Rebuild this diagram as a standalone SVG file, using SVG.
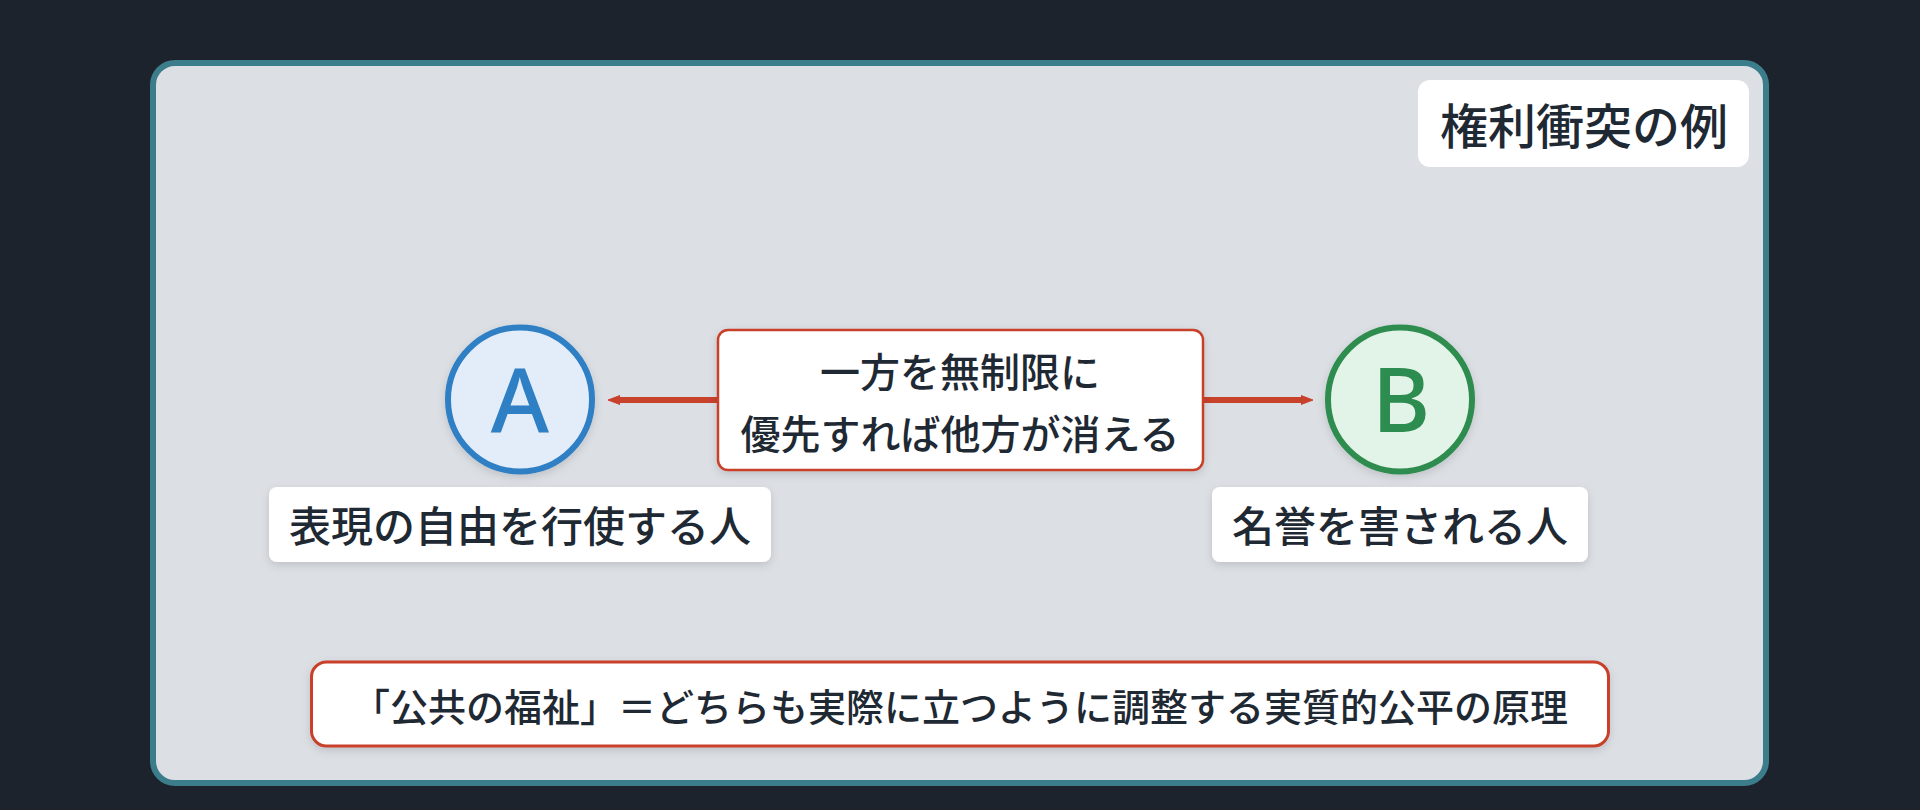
<svg xmlns="http://www.w3.org/2000/svg" width="1920" height="810" viewBox="0 0 1920 810">
  <defs>
    <style>
      .jp { font-family: "Noto Sans CJK JP", "Noto Sans", sans-serif; font-weight: 500; fill: #1f2933; }
      .lbl { fill: #ffffff; filter: url(#sh); }
      .redbox { fill: #ffffff; stroke: #c8412b; }
      .conn { stroke: #c8412b; stroke-width: 6; fill: none; }
      .letter { font-family: "Noto Sans", "DejaVu Sans", sans-serif; font-weight: 500; font-size: 89px; }
    </style>
    <filter id="sh" x="-10%" y="-20%" width="120%" height="150%">
      <feDropShadow dx="0" dy="3" stdDeviation="4" flood-color="#000000" flood-opacity="0.14"/>
    </filter>
    <marker id="arr" viewBox="0 0 12 10" refX="4" refY="5" markerWidth="12" markerHeight="10" markerUnits="userSpaceOnUse" orient="auto">
      <path d="M0,0.5 L12,5 L0,9.5 Z" fill="#c8412b" stroke="#c8412b" stroke-width="1" stroke-linejoin="round"/>
    </marker>
  </defs>

  <rect x="0" y="0" width="1920" height="810" fill="#1d232d"/>

  <g id="frame">
    <rect x="153" y="63" width="1613" height="720" rx="22" fill="#dce0e5" stroke="#3c7d8c" stroke-width="6"/>
  </g>

  <g id="title">
    <rect x="1418" y="80" width="331" height="87" rx="12" fill="#ffffff"/>
    <text class="jp" x="1584" y="123" font-size="48" text-anchor="middle" dominant-baseline="central">権利衝突の例</text>
  </g>

  <g id="connectors">
    <path class="conn" d="M718,400 L616,400" marker-end="url(#arr)"/>
    <path class="conn" d="M1202,400 L1305,400" marker-end="url(#arr)"/>
  </g>

  <g id="nodeA">
    <circle cx="520" cy="399.5" r="72" fill="#e3edf9" stroke="#2f7fc4" stroke-width="6" filter="url(#sh)"/>
    <text class="letter" x="520" y="431.5" text-anchor="middle" fill="#2f7fc4">A</text>
  </g>

  <g id="labelA">
    <rect class="lbl" x="269" y="487" width="502" height="75" rx="8"/>
    <text class="jp" x="520" y="523.5" font-size="42" text-anchor="middle" dominant-baseline="central">表現の自由を行使する人</text>
  </g>

  <g id="nodeB">
    <circle cx="1400" cy="399.5" r="72" fill="#e2f4e7" stroke="#2d8c4f" stroke-width="6" filter="url(#sh)"/>
    <text class="letter" x="1401" y="431.5" text-anchor="middle" fill="#2d8c4f">B</text>
  </g>

  <g id="labelB">
    <rect class="lbl" x="1212" y="487" width="376" height="75" rx="8"/>
    <text class="jp" x="1400" y="523.5" font-size="42" text-anchor="middle" dominant-baseline="central">名誉を害される人</text>
  </g>

  <g id="conflict">
    <rect class="redbox" x="718" y="330" width="485" height="140" rx="10" stroke-width="2.5" filter="url(#sh)"/>
    <text class="jp" x="960" y="370" font-size="40" text-anchor="middle" dominant-baseline="central">一方を無制限に</text>
    <text class="jp" x="960" y="432" font-size="40" text-anchor="middle" dominant-baseline="central">優先すれば他方が消える</text>
  </g>

  <g id="principle">
    <rect class="redbox" x="311.5" y="662" width="1297" height="84" rx="15" stroke-width="3" filter="url(#sh)"/>
    <text class="jp" x="960" y="704" font-size="38" text-anchor="middle" dominant-baseline="central">「公共の福祉」＝どちらも実際に立つように調整する実質的公平の原理</text>
  </g>
</svg>
